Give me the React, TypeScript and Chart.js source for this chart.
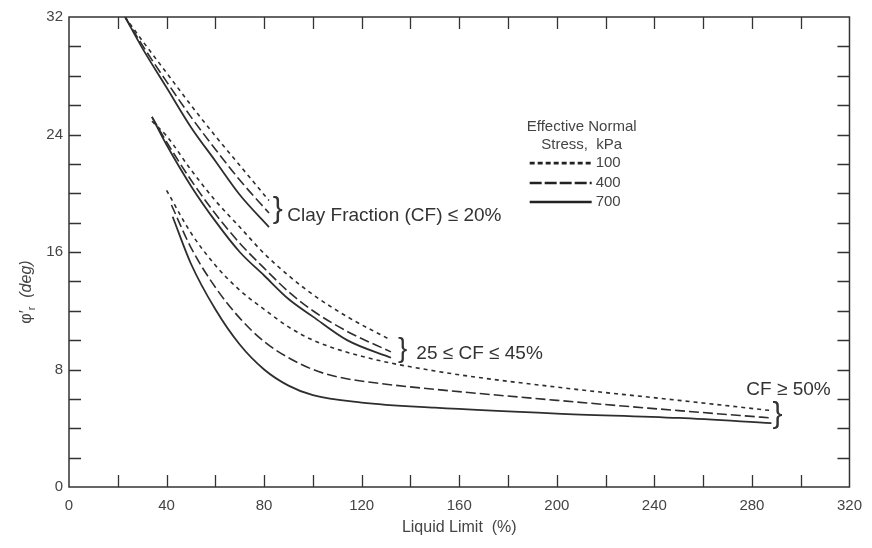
import React, { useEffect, useRef } from 'react';
import { Chart, registerables } from 'chart.js';

Chart.register(...registerables);

// ---- Data ----
// Clay Fraction (CF) <= 20%
const g1X = [23, 30, 40, 50, 60, 70, 82];
const g1S100 = [32, 30.4, 28.2, 26.0, 23.9, 21.9, 19.5];
const g1S400 = [32, 30.1, 27.6, 25.2, 23.0, 20.9, 18.65];
const g1S700 = [32, 29.9, 27.2, 24.5, 22.2, 19.9, 17.7];

// 25 <= CF <= 45%
const g2X = [34, 40, 50, 60, 70, 80, 90, 100, 114, 132];
const g2S100 = [24.9, 23.9, 21.6, 19.5, 17.7, 15.9, 14.4, 13.1, 11.6, 10.0];
const g2S400 = [25.2, 23.5, 20.9, 18.6, 16.6, 14.9, 13.3, 12.0, 10.6, 9.2];
const g2S700 = [25.2, 23.3, 20.5, 18.1, 16.0, 14.4, 12.8, 11.6, 10.0, 8.8];

// CF >= 50%
const g3X100 = [40, 50, 60, 70, 80, 90, 100, 120, 150, 200, 250, 288];
const g3S100 = [20.2, 17.3, 15.1, 13.4, 12.1, 10.9, 10.0, 8.9, 7.9, 6.8, 5.9, 5.2];
const g3X400 = [42, 50, 60, 70, 80, 90, 100, 110, 130, 150, 200, 250, 288];
const g3S400 = [19.2, 16.3, 13.6, 11.5, 9.9, 8.8, 8.0, 7.5, 7.0, 6.65, 5.9, 5.2, 4.7];
const g3X700 = [42.5, 50, 60, 70, 80, 90, 100, 120, 150, 200, 250, 288];
const g3S700 = [18.4, 15.2, 12.1, 9.7, 8.0, 6.9, 6.25, 5.75, 5.4, 5.0, 4.7, 4.35];

const stressLabels = ['100', '400', '700'];
const groupLabels = ['Clay Fraction (CF) \u2264 20%', '25 \u2264 CF \u2264 45%', 'CF \u2265 50%'];
const legendTitle = ['Effective Normal', 'Stress,  kPa'];
const xTitle = 'Liquid Limit  (%)';

const FONT = '"Liberation Sans", Arial, Helvetica, sans-serif';
const INK = '#2e2e2e';
const TEXT = '#444';

const dashFor: Record<string, number[]> = { '100': [4, 4], '400': [10, 4], '700': [] };

function pts(xs: number[], ys: number[]) {
  return xs.map((x, i) => ({ x, y: ys[i] }));
}

const seriesDefs = [
  { xs: g1X, ys: g1S100, s: '100' },
  { xs: g1X, ys: g1S400, s: '400' },
  { xs: g1X, ys: g1S700, s: '700' },
  { xs: g2X, ys: g2S100, s: '100' },
  { xs: g2X, ys: g2S400, s: '400' },
  { xs: g2X, ys: g2S700, s: '700' },
  { xs: g3X100, ys: g3S100, s: '100' },
  { xs: g3X400, ys: g3S400, s: '400' },
  { xs: g3X700, ys: g3S700, s: '700' },
];

const overlay = {
  id: 'overlay',
  afterDraw(chart: any) {
    const { ctx, chartArea: a, scales } = chart;
    const xs = scales.x;
    const ys = scales.y;
    ctx.save();
    // frame
    ctx.strokeStyle = '#333';
    ctx.lineWidth = 1.5;
    ctx.setLineDash([]);
    ctx.strokeRect(a.left, a.top, a.right - a.left, a.bottom - a.top);
    // inward ticks on all four sides
    const TL = 12;
    ctx.lineWidth = 1.3;
    ctx.beginPath();
    xs.ticks.forEach((t: any) => {
      if (t.value <= xs.min || t.value >= xs.max) return;
      const p = Math.round(xs.getPixelForValue(t.value)) + 0.5;
      ctx.moveTo(p, a.bottom);
      ctx.lineTo(p, a.bottom - TL);
      ctx.moveTo(p, a.top);
      ctx.lineTo(p, a.top + TL);
    });
    ys.ticks.forEach((t: any) => {
      if (t.value <= ys.min || t.value >= ys.max) return;
      const p = Math.round(ys.getPixelForValue(t.value)) + 0.5;
      ctx.moveTo(a.left, p);
      ctx.lineTo(a.left + TL, p);
      ctx.moveTo(a.right, p);
      ctx.lineTo(a.right - TL, p);
    });
    ctx.stroke();

    // legend
    const lx = xs.getPixelForValue(202);
    ctx.fillStyle = TEXT;
    ctx.font = `15px ${FONT}`;
    ctx.textAlign = 'center';
    ctx.textBaseline = 'middle';
    ctx.fillText(legendTitle[0], lx + 20, ys.getPixelForValue(24.5));
    ctx.fillText(legendTitle[1], lx + 20, ys.getPixelForValue(23.3));
    const rowY = [22.05, 20.7, 19.4];
    stressLabels.forEach((s, i) => {
      const y = ys.getPixelForValue(rowY[i]);
      ctx.strokeStyle = '#222';
      ctx.lineWidth = 2.6;
      ctx.setLineDash(s === '100' ? [5, 3] : s === '400' ? [12, 3] : []);
      ctx.beginPath();
      ctx.moveTo(lx - 32, y);
      ctx.lineTo(lx + 30, y);
      ctx.stroke();
      ctx.setLineDash([]);
      ctx.textAlign = 'left';
      ctx.fillText(s, lx + 34, y);
    });

    // group annotations with braces
    const brace = (xv: number, yv: number, size: number) => {
      ctx.font = `${size}px ${FONT}`;
      ctx.textAlign = 'center';
      ctx.textBaseline = 'middle';
      ctx.fillStyle = '#333';
      ctx.fillText('}', xs.getPixelForValue(xv), ys.getPixelForValue(yv));
    };
    brace(85.6, 18.9, 30);
    brace(136.8, 9.4, 28);
    brace(290.5, 4.9, 30);
    ctx.fillStyle = '#333';
    ctx.font = `19px ${FONT}`;
    ctx.textAlign = 'left';
    ctx.textBaseline = 'middle';
    ctx.fillText(groupLabels[0], xs.getPixelForValue(89.5), ys.getPixelForValue(18.5));
    ctx.fillText(groupLabels[1], xs.getPixelForValue(142.4), ys.getPixelForValue(9.1));
    ctx.textAlign = 'center';
    ctx.fillText(groupLabels[2], xs.getPixelForValue(295), ys.getPixelForValue(6.6));

    // y axis title: phi'_r (deg)
    ctx.save();
    ctx.translate(27, (a.top + a.bottom) / 2 + 40);
    ctx.rotate(-Math.PI / 2);
    ctx.fillStyle = TEXT;
    ctx.textBaseline = 'middle';
    ctx.textAlign = 'left';
    const f1 = `16px ${FONT}`;
    const f2 = `11px ${FONT}`;
    const f3 = `italic 16px ${FONT}`;
    ctx.font = f1;
    const w1 = ctx.measureText('\u03C6\u2032').width;
    ctx.font = f2;
    const w2 = ctx.measureText('r').width;
    ctx.font = f3;
    const w3 = ctx.measureText('  (deg)').width;
    let x0 = -(w1 + w2 + w3) / 2;
    ctx.font = f1;
    ctx.fillText('\u03C6\u2032', x0, 0);
    x0 += w1;
    ctx.font = f2;
    ctx.fillText('r', x0, 5);
    x0 += w2;
    ctx.font = f3;
    ctx.fillText('  (deg)', x0, 0);
    ctx.restore();

    ctx.restore();
  },
};

export default function App() {
  const ref = useRef<HTMLCanvasElement>(null);
  useEffect(() => {
    document.body.style.margin = '0';
    const canvas = ref.current;
    if (!canvas) return;
    const chart = new Chart(canvas, {
      type: 'line',
      data: {
        datasets: seriesDefs.map((d) => ({
          label: d.s,
          data: pts(d.xs, d.ys),
          borderColor: INK,
          borderWidth: d.s === '700' ? 1.8 : 1.6,
          borderDash: dashFor[d.s],
          pointRadius: 0,
          fill: false,
          cubicInterpolationMode: 'monotone' as const,
        })),
      },
      options: {
        responsive: false,
        animation: false,
        layout: { padding: { top: 17, right: 21, left: 0, bottom: 0 } },
        plugins: { legend: { display: false }, tooltip: { enabled: false } },
        scales: {
          x: {
            type: 'linear',
            min: 0,
            max: 320,
            grid: { display: false, drawTicks: false },
            border: { display: false },
            ticks: {
              stepSize: 20,
              autoSkip: false,
              maxRotation: 0,
              padding: 10,
              color: TEXT,
              font: { family: FONT, size: 15 },
              callback: (v: any) => (Number(v) % 40 === 0 ? String(v) : ''),
            },
            title: {
              display: true,
              text: xTitle,
              color: TEXT,
              font: { family: FONT, size: 16 },
              padding: { top: 0, bottom: 11 },
            },
            afterFit: (s: any) => {
              s.height = 61;
            },
          },
          y: {
            type: 'linear',
            min: 0,
            max: 32,
            grid: { display: false, drawTicks: false },
            border: { display: false },
            ticks: {
              stepSize: 2,
              autoSkip: false,
              padding: 6,
              color: TEXT,
              font: { family: FONT, size: 15 },
              callback: (v: any) => (Number(v) % 8 === 0 ? String(v) : ''),
            },
            afterFit: (s: any) => {
              s.width = 69;
            },
          },
        },
      },
      plugins: [overlay],
    });
    return () => chart.destroy();
  }, []);
  return (
    <div style={{ width: 872, height: 548, background: '#fff' }}>
      <canvas ref={ref} width={872} height={548} />
    </div>
  );
}
